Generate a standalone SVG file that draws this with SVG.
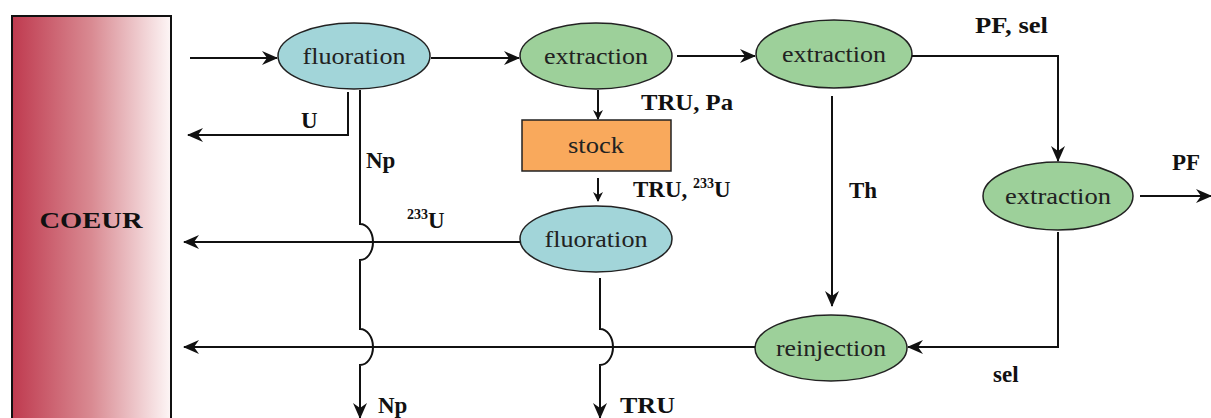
<svg xmlns="http://www.w3.org/2000/svg" width="1211" height="418" viewBox="0 0 1211 418">
<defs>
<linearGradient id="coeurGrad" x1="0" y1="0" x2="1" y2="0">
<stop offset="0" stop-color="#bf3a4f"/>
<stop offset="0.5" stop-color="#d98a92"/>
<stop offset="1" stop-color="#fdf6f6"/>
</linearGradient>
<marker id="ah" viewBox="0 0 16 14" refX="15" refY="7" markerWidth="16" markerHeight="14" markerUnits="userSpaceOnUse" orient="auto">
<path d="M0,0 L16,7 L0,14 L5,7 z" fill="#111"/>
</marker>
<marker id="ahs" viewBox="0 0 10 10" refX="9" refY="5" markerWidth="10" markerHeight="10" markerUnits="userSpaceOnUse" orient="auto">
<path d="M0,0 L10,5 L0,10 L3,5 z" fill="#111"/>
</marker>
</defs>
<style>
.node { stroke: #222; stroke-width: 1.5; }
.cyan { fill: #a2d5d9; }
.green { fill: #9dd09a; }
.orange { fill: #f9a95c; }
.nt { font-family: "Liberation Serif", "Times New Roman", serif; font-size: 24px; fill: #222; text-anchor: middle; }
.lb { font-family: "Liberation Serif", "Times New Roman", serif; font-size: 23px; font-weight: bold; fill: #111; }
.sup { font-size: 14px; }
.c { fill: none; stroke: #111; stroke-width: 2; }
</style>

<g id="coeur">
<rect x="12" y="16" width="159" height="410" fill="url(#coeurGrad)" stroke="#111" stroke-width="2"/>
<text x="91" y="228" class="lb" text-anchor="middle" font-size="25" textLength="103" lengthAdjust="spacingAndGlyphs">COEUR</text>
</g>

<g id="fluoration1">
<ellipse cx="354" cy="56" rx="76" ry="33" class="node cyan"/>
<text x="354" y="64" class="nt" textLength="103" lengthAdjust="spacingAndGlyphs">fluoration</text>
</g>

<g id="extraction1">
<ellipse cx="596" cy="56" rx="76" ry="33" class="node green"/>
<text x="596" y="64" class="nt" textLength="104" lengthAdjust="spacingAndGlyphs">extraction</text>
</g>

<g id="extraction2">
<ellipse cx="834" cy="54" rx="78" ry="34" class="node green"/>
<text x="834" y="62" class="nt" textLength="104" lengthAdjust="spacingAndGlyphs">extraction</text>
</g>

<g id="extraction3">
<ellipse cx="1058" cy="196" rx="75" ry="34" class="node green"/>
<text x="1058" y="204" class="nt" textLength="106" lengthAdjust="spacingAndGlyphs">extraction</text>
</g>

<g id="stock">
<rect x="522" y="120" width="149" height="51" class="node orange"/>
<text x="596" y="153" class="nt" textLength="56" lengthAdjust="spacingAndGlyphs">stock</text>
</g>

<g id="fluoration2">
<ellipse cx="596" cy="239" rx="76" ry="33" class="node cyan"/>
<text x="596" y="247" class="nt" textLength="103" lengthAdjust="spacingAndGlyphs">fluoration</text>
</g>

<g id="reinjection">
<ellipse cx="831" cy="348" rx="76" ry="33" class="node green"/>
<text x="831" y="356" class="nt" textLength="110" lengthAdjust="spacingAndGlyphs">reinjection</text>
</g>

<g id="connectors">
<line x1="190" y1="58" x2="277" y2="58" class="c" marker-end="url(#ah)"/>
<line x1="431" y1="58" x2="519" y2="58" class="c" marker-end="url(#ah)"/>
<line x1="677" y1="56" x2="755" y2="56" class="c" marker-end="url(#ah)"/>
<polyline points="912,56 1058,56 1058,161" class="c" marker-end="url(#ah)"/>
<line x1="1140" y1="196" x2="1211" y2="196" class="c" marker-end="url(#ah)"/>
<polyline points="1058,232 1058,347 908,347" class="c" marker-end="url(#ah)"/>
<line x1="832" y1="96" x2="832" y2="306" class="c" marker-end="url(#ah)"/>
<line x1="755" y1="347" x2="184" y2="347" class="c" marker-end="url(#ah)"/>
<line x1="520" y1="242" x2="184" y2="242" class="c" marker-end="url(#ah)"/>
<polyline points="348,92 348,135 188,135" class="c" marker-end="url(#ah)"/>
<line x1="598" y1="90" x2="598" y2="119" class="c" marker-end="url(#ahs)"/>
<line x1="598" y1="178" x2="598" y2="201" class="c" marker-end="url(#ahs)"/>
<path d="M360,90 V224 A13,18 0 0 1 360,260 V329 A13,18 0 0 1 360,365 V418" class="c" marker-end="url(#ah)"/>
<path d="M600,278 V329 A13,18 0 0 1 600,365 V418" class="c" marker-end="url(#ah)"/>
</g>

<g id="labels">
<text x="301" y="128" class="lb">U</text>
<text x="366" y="168" class="lb">Np</text>
<text x="407" y="228" class="lb"><tspan class="sup" dy="-9">233</tspan><tspan dy="9">U</tspan></text>
<text x="641" y="110" class="lb" textLength="92" lengthAdjust="spacingAndGlyphs">TRU, Pa</text>
<text x="633" y="197" class="lb">TRU, <tspan class="sup" dy="-9">233</tspan><tspan dy="9">U</tspan></text>
<text x="849" y="198" class="lb">Th</text>
<text x="975" y="33" class="lb" textLength="73" lengthAdjust="spacingAndGlyphs">PF, sel</text>
<text x="1172" y="170" class="lb">PF</text>
<text x="993" y="382" class="lb">sel</text>
<text x="378" y="413" class="lb">Np</text>
<text x="620" y="413" class="lb" textLength="55" lengthAdjust="spacingAndGlyphs">TRU</text>
</g>
</svg>
